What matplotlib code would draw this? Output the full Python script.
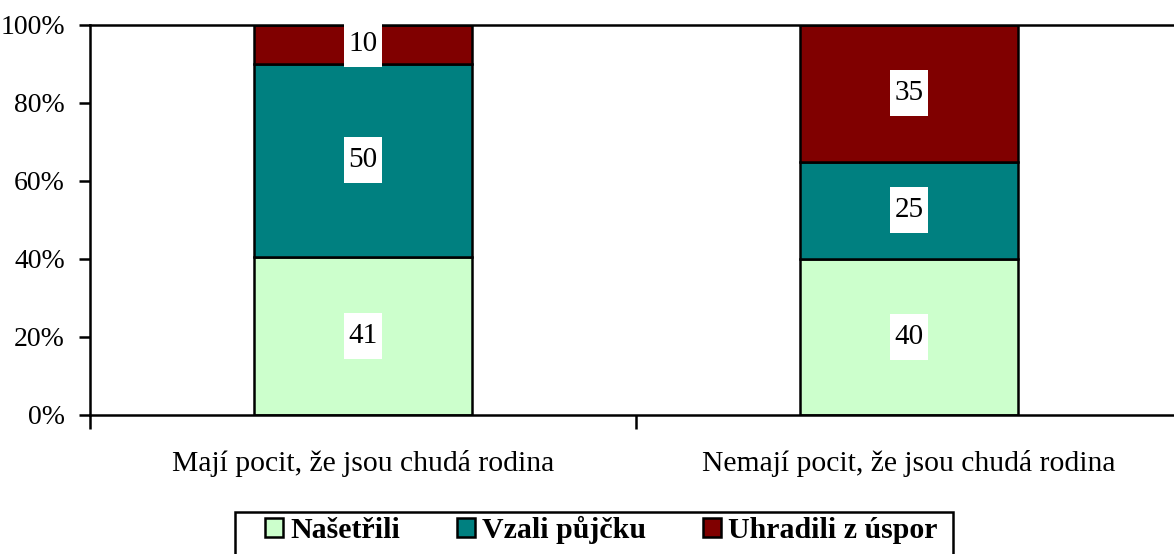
import matplotlib
matplotlib.use("Agg")
import matplotlib.pyplot as plt
import numpy as np
from matplotlib.patches import Patch, Rectangle
from matplotlib.path import Path

categories = ["Mají pocit, že jsou chudá rodina", "Nemají pocit, že jsou chudá rodina"]
series = ["Našetřili", "Vzali půjčku", "Uhradili z úspor"]
nasetrili = [41, 40]
vzali = [50, 25]
uhradili = [10, 35]
colors = ["#CCFFCC", "#008080", "#800000"]
ytick_labels = ["0%", "20%", "40%", "60%", "80%", "100%"]

plt.rcParams['font.family'] = ['Liberation Serif', 'DejaVu Serif']

fig = plt.figure(figsize=(11.74, 5.54), dpi=100)
W, H = 1174, 554
ax = fig.add_axes([90 / W, 1 - 415 / H, (1182 - 90) / W, (415 - 25) / H])


def label_box(x0, y0, width, height, mutation_size):
    # fixed-size white box (in pixels) centred on the text
    cx, cy = x0 + width / 2, y0 + height / 2
    hw, hh = max(width / 2 + 4, 17), 23
    return Path.unit_rectangle().transformed(
        matplotlib.transforms.Affine2D().scale(2 * hw, 2 * hh).translate(cx - hw, cy - hh))


data = np.array([nasetrili, vzali, uhradili], dtype=float)
totals = data.sum(axis=0)
pct = data / totals * 100
x = np.arange(len(categories))
bottom = np.zeros(len(categories))
for i, name in enumerate(series):
    ax.bar(x, pct[i], bottom=bottom, width=0.4, color=colors[i],
           edgecolor="black", linewidth=1.8, label=name, zorder=2)
    for j in range(len(categories)):
        ax.text(x[j], bottom[j] + pct[i][j] / 2, f"{int(data[i][j])}",
                ha="center", va="center", fontsize=21, zorder=3,
                bbox=dict(boxstyle=label_box, facecolor="white", edgecolor="none"))
    bottom += pct[i]

ax.set_xlim(-0.5, 1.5)
ax.set_ylim(0, 100)
ax.set_yticks(np.arange(0, 101, 20))
ax.set_yticklabels(ytick_labels, fontsize=20)
ax.set_xticks([-0.5, 0.5, 1.5])
ax.set_xticklabels([])
ax.set_xticks(x, minor=True)
ax.set_xticklabels(categories, minor=True, fontsize=21.3)
ax.tick_params(axis="x", which="minor", length=0, pad=25)
ax.tick_params(axis="x", which="major", length=10, width=1.8, direction="out")
ax.tick_params(axis="y", length=8, width=1.8, direction="out", pad=10)
for s in ["left", "bottom", "top"]:
    ax.spines[s].set_linewidth(1.8)
ax.spines["right"].set_visible(False)

handles = [Patch(facecolor=c, edgecolor="black", linewidth=1.8, label=n) for c, n in zip(colors, series)]
leg = fig.legend(handles=handles, loc="upper left", bbox_to_anchor=(265 / W, 1 - 516 / H),
                 ncol=3, frameon=False,
                 prop={"family": "Liberation Serif", "weight": "bold", "size": 21.5},
                 handlelength=0.6, handleheight=0.6, handletextpad=0.25, columnspacing=1.9,
                 borderaxespad=0, borderpad=0)
fig.patches.append(Rectangle((235 / W, -10 / H), (953 - 235) / W, (10 + 554 - 512) / H,
                             transform=fig.transFigure, facecolor="none",
                             edgecolor="black", linewidth=1.8))

fig.savefig("out.png", dpi=100)
